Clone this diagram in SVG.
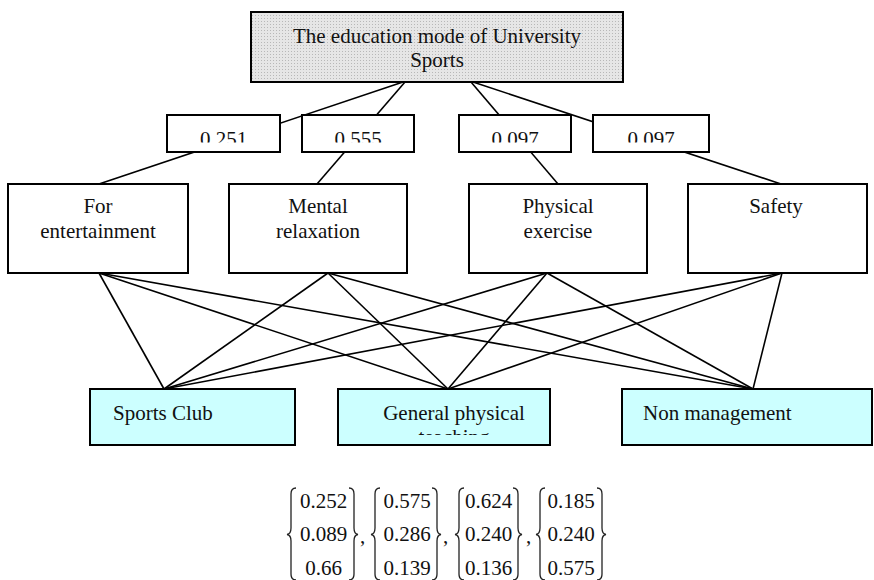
<svg xmlns="http://www.w3.org/2000/svg" width="874" height="580" viewBox="0 0 874 580" font-family="'Liberation Serif', 'DejaVu Serif', serif" font-size="21">
<defs>
<style>
text{font-family:'Liberation Serif','DejaVu Serif',serif;font-size:21px;fill:#111;}
.c{text-anchor:middle;}
.box{fill:#fff;stroke:#000;stroke-width:2;}
.alt{fill:#ccffff;stroke:#000;stroke-width:2;}
.ln{stroke:#000;stroke-width:1.6;fill:none;}
.br{stroke:#222;stroke-width:1.3;fill:none;}
</style>
<pattern id="dots" width="3" height="3" patternUnits="userSpaceOnUse">
<rect width="3" height="3" fill="#e6e6e6"/>
<rect width="1" height="1" fill="#b8b8b8"/>
</pattern>
<clipPath id="clipLabels" clipPathUnits="userSpaceOnUse"><rect x="0" y="115" width="874" height="27.5"/></clipPath>
<clipPath id="clipTeach" clipPathUnits="userSpaceOnUse"><rect x="338" y="389" width="212" height="46"/></clipPath>
</defs>

<g id="connectors">
<line class="ln" x1="403" y1="82" x2="99" y2="184"/>
<line class="ln" x1="405" y1="82" x2="317" y2="184"/>
<line class="ln" x1="471" y1="82" x2="558" y2="184"/>
<line class="ln" x1="473" y1="82" x2="781" y2="184"/>
<line class="ln" x1="99" y1="273" x2="164" y2="389"/>
<line class="ln" x1="99" y1="273" x2="448" y2="389"/>
<line class="ln" x1="99" y1="273" x2="753" y2="389"/>
<line class="ln" x1="328" y1="273" x2="164" y2="389"/>
<line class="ln" x1="328" y1="273" x2="448" y2="389"/>
<line class="ln" x1="328" y1="273" x2="753" y2="389"/>
<line class="ln" x1="547" y1="273" x2="164" y2="389"/>
<line class="ln" x1="547" y1="273" x2="448" y2="389"/>
<line class="ln" x1="547" y1="273" x2="753" y2="389"/>
<line class="ln" x1="782" y1="273" x2="164" y2="389"/>
<line class="ln" x1="782" y1="273" x2="448" y2="389"/>
<line class="ln" x1="782" y1="273" x2="753" y2="389"/>
</g>

<g id="goal">
<rect x="251" y="12" width="372" height="70" fill="url(#dots)" stroke="#000" stroke-width="2"/>
<text class="c" x="437" y="43">The education mode of University</text>
<text class="c" x="437" y="67">Sports</text>
</g>

<g id="w1">
<rect class="box" x="167" y="115" width="113" height="37"/>
<text class="c" x="223.5" y="146" clip-path="url(#clipLabels)">0.251</text>
</g>
<g id="w2">
<rect class="box" x="302" y="115" width="112" height="37"/>
<text class="c" x="358" y="146" clip-path="url(#clipLabels)">0.555</text>
</g>
<g id="w3">
<rect class="box" x="459" y="115" width="112" height="37"/>
<text class="c" x="515" y="146" clip-path="url(#clipLabels)">0.097</text>
</g>
<g id="w4">
<rect class="box" x="593" y="115" width="116" height="37"/>
<text class="c" x="651" y="146" clip-path="url(#clipLabels)">0.097</text>
</g>

<g id="entertainment">
<rect class="box" x="8" y="184" width="180" height="89"/>
<text class="c" x="98" y="213">For</text>
<text class="c" x="98" y="238">entertainment</text>
</g>
<g id="mental">
<rect class="box" x="229" y="184" width="178" height="89"/>
<text class="c" x="318" y="213">Mental</text>
<text class="c" x="318" y="238">relaxation</text>
</g>
<g id="physical">
<rect class="box" x="469" y="184" width="178" height="89"/>
<text class="c" x="558" y="213">Physical</text>
<text class="c" x="558" y="238">exercise</text>
</g>
<g id="safety">
<rect class="box" x="688" y="184" width="179" height="89"/>
<text class="c" x="776" y="213">Safety</text>
</g>

<g id="club">
<rect class="alt" x="90" y="389" width="205" height="56"/>
<text x="113" y="420">Sports Club</text>
</g>
<g id="general">
<rect class="alt" x="338" y="389" width="212" height="56"/>
<text class="c" x="454" y="420">General physical</text>
<text class="c" x="454" y="444" clip-path="url(#clipTeach)">teaching</text>
</g>
<g id="nonmanagement">
<rect class="alt" x="622" y="389" width="250" height="56"/>
<text x="643" y="420">Non management</text>
</g>

<g id="vectors">
<path class="br" d="M296,488 Q291,488 291,494 V528 Q291,534 287,534.5 Q291,535 291,541 V574 Q291,580 296,580"/>
<path class="br" d="M349,488 Q354,488 354,494 V528 Q354,534 358,534.5 Q354,535 354,541 V574 Q354,580 349,580"/>
<text class="c" x="323.5" y="507.5">0.252</text>
<text class="c" x="323.5" y="541">0.089</text>
<text class="c" x="323.5" y="575">0.66</text>
<text x="360" y="543">,</text>

<path class="br" d="M380,488 Q375,488 375,494 V528 Q375,534 371,534.5 Q375,535 375,541 V574 Q375,580 380,580"/>
<path class="br" d="M432,488 Q437,488 437,494 V528 Q437,534 441,534.5 Q437,535 437,541 V574 Q437,580 432,580"/>
<text class="c" x="407" y="507.5">0.575</text>
<text class="c" x="407" y="541">0.286</text>
<text class="c" x="407" y="575">0.139</text>
<text x="443" y="543">,</text>

<path class="br" d="M464,488 Q459,488 459,494 V528 Q459,534 455,534.5 Q459,535 459,541 V574 Q459,580 464,580"/>
<path class="br" d="M513,488 Q518,488 518,494 V528 Q518,534 522,534.5 Q518,535 518,541 V574 Q518,580 513,580"/>
<text class="c" x="488.5" y="507.5">0.624</text>
<text class="c" x="488.5" y="541">0.240</text>
<text class="c" x="488.5" y="575">0.136</text>
<text x="526" y="543">,</text>

<path class="br" d="M545,488 Q540,488 540,494 V528 Q540,534 536,534.5 Q540,535 540,541 V574 Q540,580 545,580"/>
<path class="br" d="M597,488 Q602,488 602,494 V528 Q602,534 606,534.5 Q602,535 602,541 V574 Q602,580 597,580"/>
<text class="c" x="571" y="507.5">0.185</text>
<text class="c" x="571" y="541">0.240</text>
<text class="c" x="571" y="575">0.575</text>
</g>
</svg>
